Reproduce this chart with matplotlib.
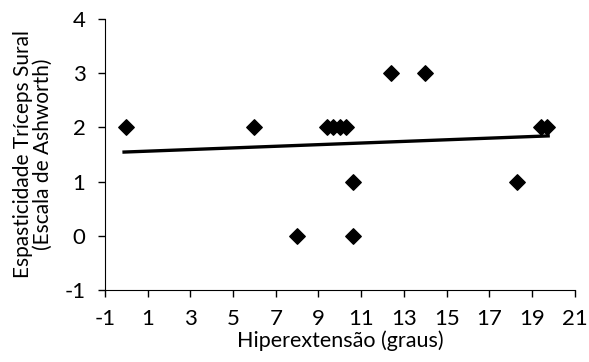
import numpy as np
import matplotlib
matplotlib.use("Agg")
import matplotlib.pyplot as plt

# Hiperextensão (graus) x Espasticidade (Ashworth)
hiperextensao = [0, 6, 8, 9.4, 9.7, 10.0, 10.3, 10.6, 10.6, 12.4, 14.0, 18.3, 19.4, 19.7]
espasticidade = [2, 2, 0, 2, 2, 2, 2, 1, 0, 3, 3, 1, 2, 2]
xticks = [-1, 1, 3, 5, 7, 9, 11, 13, 15, 17, 19, 21]
yticks = [-1, 0, 1, 2, 3, 4]

plt.rcParams['font.family'] = ['Lato', 'DejaVu Sans']
plt.rcParams['font.size'] = 16
plt.rcParams['axes.unicode_minus'] = False

fig = plt.figure(figsize=(5.89, 3.62), dpi=100)
ax = fig.add_axes([0.178, 0.199, 0.798, 0.749])

ax.scatter(hiperextensao, espasticidade, marker='D', s=62, color='black', zorder=3)

# linha de tendência (mínimos quadrados)
a, b = np.polyfit(hiperextensao, espasticidade, 1)
xs = np.array([min(hiperextensao) - 0.1, max(hiperextensao) + 0.05])
ax.plot(xs, a * xs + b, color='black', lw=2.4)

ax.set_xlim(-1, 21)
ax.set_ylim(-1, 4)
ax.set_xticks(xticks)
ax.set_yticks(yticks)
ax.spines['top'].set_visible(False)
ax.spines['right'].set_visible(False)
ax.tick_params(direction='out', length=5, width=1, color='black')
ax.tick_params(axis='x', pad=9)
ax.tick_params(axis='y', pad=9)
ax.set_xlabel('Hiperextensão (graus)', labelpad=1, fontsize=15.5)
ax.set_ylabel('Espasticidade Tríceps Sural\n(Escala de Ashworth)', labelpad=8, linespacing=1.0, fontsize=15)

fig.savefig('out.png', dpi=100)
